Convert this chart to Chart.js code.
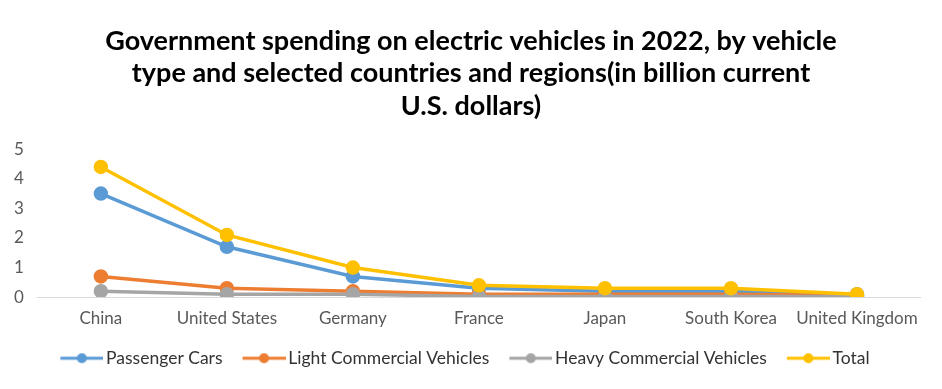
<!DOCTYPE html>
<html>
<head>
<meta charset="utf-8">
<script src="https://cdn.jsdelivr.net/npm/chart.js@4/dist/chart.umd.min.js"></script>
<style>
  html, body { margin: 0; padding: 0; background: #fff; }
  #wrap { width: 942px; height: 389px; }
</style>
</head>
<body>
<div id="wrap"><canvas id="chart"></canvas></div>
<script>
const categories = ['China', 'United States', 'Germany', 'France', 'Japan', 'South Korea', 'United Kingdom'];
const passengerCars = [3.5, 1.7, 0.7, 0.3, 0.2, 0.2, 0.1];
const lightCommercial = [0.7, 0.3, 0.2, 0.1, 0.1, 0.1, 0.05];
const heavyCommercial = [0.2, 0.1, 0.1, 0.02, 0.02, 0.02, 0.02];
const total = [4.4, 2.1, 1.0, 0.4, 0.3, 0.3, 0.1];
const yTicks = [0, 1, 2, 3, 4, 5];

const FONT = 'Lato, "Open Sans", sans-serif';

// line+dot swatch for the legend (blank strip on the left widens the gap between items)
function swatch(color) {
    let c = document.createElement('canvas');
    c.width = 59; c.height = 12;
    let g = c.getContext('2d');
    g.strokeStyle = color;
    g.lineWidth = 3;
    g.beginPath(); g.moveTo(16, 6); g.lineTo(59, 6); g.stroke();
    g.fillStyle = color;
    g.beginPath(); g.arc(37.5, 6, 5, 0, Math.PI * 2); g.fill();
    return c;
}

function series(label, data, color, order) {
    return {
        label: label,
        data: data,
        borderColor: color,
        backgroundColor: color,
        pointBackgroundColor: color,
        pointBorderColor: color,
        borderWidth: 3.5,
        pointRadius: 5.5,
        pointHoverRadius: 5.5,
        tension: 0,
        fill: false,
        order: order,
        swatch: swatch(color),
    };
}

// center the title over the whole canvas, not just the padded box
const centerTitle = {
    id: 'centerTitle',
    afterLayout(chart) {
        if (chart.titleBlock) {
            chart.titleBlock.left = 0;
            chart.titleBlock.right = chart.width;
        }
    },
};

new Chart(document.getElementById('chart'), {
    type: 'line',
    data: {
        labels: categories,
        datasets: [
            series('Passenger Cars', passengerCars, '#5B9BD5', 4),
            series('Light Commercial Vehicles', lightCommercial, '#ED7D31', 3),
            series('Heavy Commercial Vehicles', heavyCommercial, '#A5A5A5', 2),
            series('Total', total, '#FFC000', 1),
        ],
    },
    plugins: [centerTitle],
    options: {
        responsive: true,
        maintainAspectRatio: false,
        animation: false,
        layout: { padding: { left: 0, right: 22, top: 11, bottom: 12 } },
        plugins: {
            title: {
                display: true,
                text: ['Government spending on electric vehicles in 2022, by vehicle',
                       'type and selected countries and regions(in billion current',
                       'U.S. dollars)'],
                color: '#000',
                font: { family: FONT, size: 27, weight: 'bold', lineHeight: 1.2 },
                padding: { top: 14, bottom: 27 },
            },
            legend: {
                position: 'bottom',
                labels: {
                    color: '#333',
                    font: { family: FONT, size: 17.5 },
                    usePointStyle: true,
                    pointStyleWidth: 47,
                    padding: 10,
                    generateLabels: (chart) => chart.data.datasets.map((ds, i) => ({
                        text: ds.label,
                        fillStyle: ds.borderColor,
                        strokeStyle: ds.borderColor,
                        pointStyle: ds.swatch,
                        fontColor: '#333',
                        datasetIndex: i,
                        hidden: false,
                    })),
                },
            },
            tooltip: { enabled: false },
        },
        scales: {
            x: {
                offset: true,
                grid: { display: false, drawTicks: false },
                border: { color: '#D9D9D9', width: 1 },
                ticks: { color: '#595959', font: { family: FONT, size: 17 }, padding: 11, maxRotation: 0, autoSkip: false },
            },
            y: {
                min: 0,
                max: 5,
                afterBuildTicks: (axis) => { axis.ticks = yTicks.map(v => ({ value: v })); },
                grid: { display: false, drawTicks: false },
                border: { display: false },
                ticks: { color: '#595959', font: { family: FONT, size: 17 }, padding: 14 },
            },
        },
    },
});
</script>
</body>
</html>
